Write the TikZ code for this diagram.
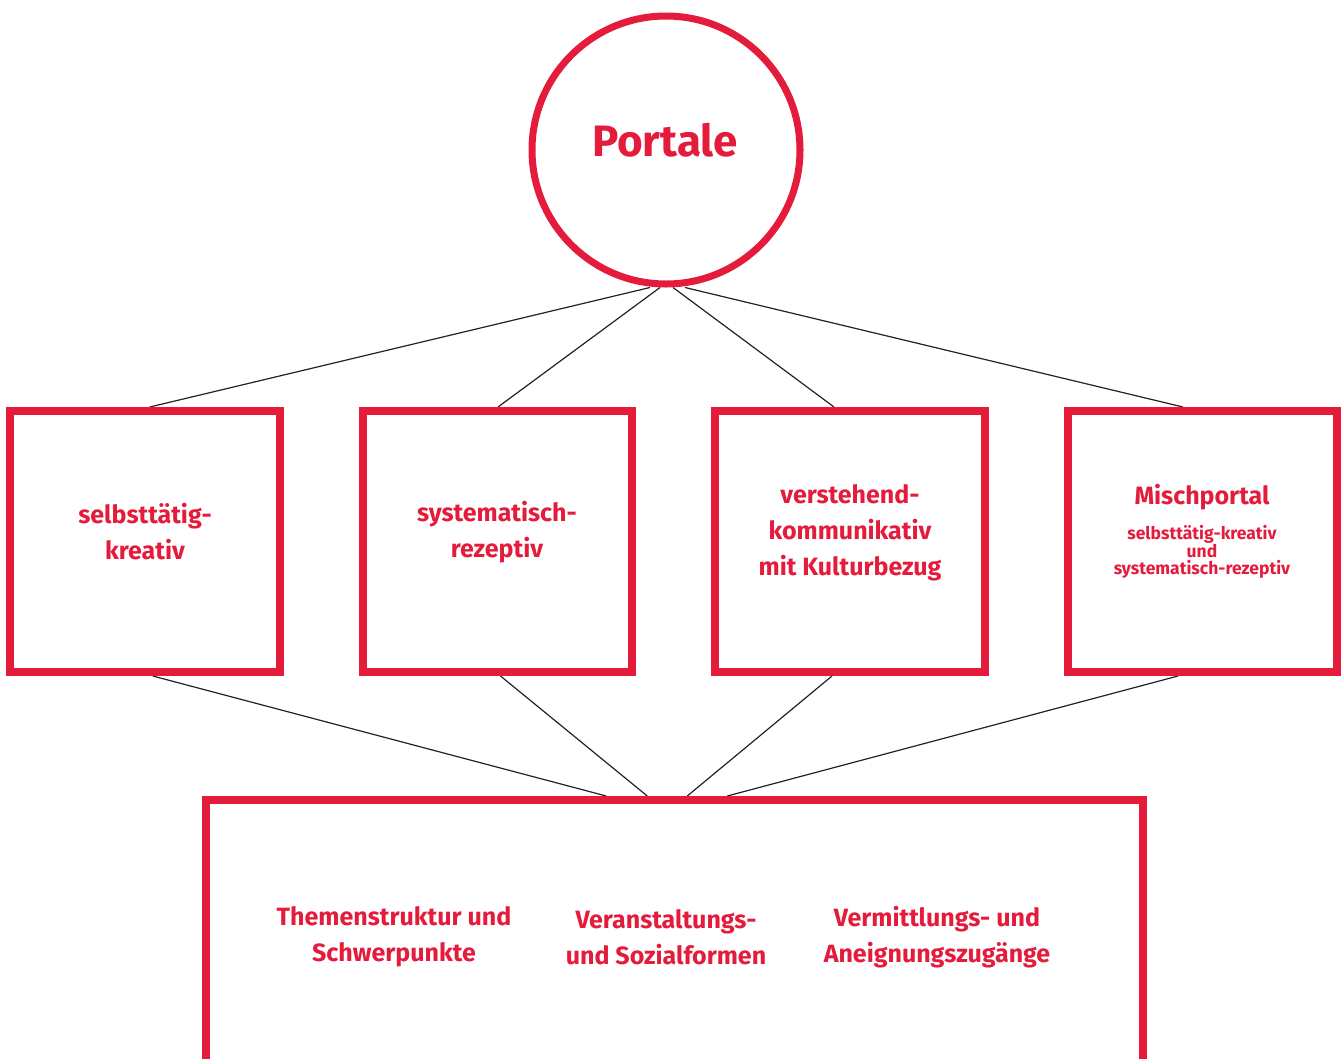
\documentclass[tikz,border=0pt]{standalone}
\usepackage{fontspec}
\setmainfont{Fira Sans}
\usetikzlibrary{calc}
\definecolor{pred}{RGB}{228,27,59}
\definecolor{lgray}{RGB}{34,34,34}
\pgfdeclarelayer{background}
\pgfsetlayers{background,main}
\tikzset{
  redbox/.style={draw=pred, line width=8pt, minimum width=269.5pt, minimum height=261pt, inner sep=0pt},
  bigbox/.style={draw=pred, line width=8pt, minimum width=936.5pt, minimum height=400pt, inner sep=0pt},
  portal/.style={draw=pred, line width=7pt, circle, minimum size=268pt, inner sep=0pt},
  lbl/.style={text=pred, font=\fontsize{25}{36}\selectfont\bfseries, align=center, inner sep=0pt},
  sublbl/.style={text=pred, font=\fontsize{17.5}{17.5}\selectfont\bfseries, align=center, inner sep=0pt},
  conn/.style={draw=lgray, line width=1.2pt}
}
\begin{document}
\begin{tikzpicture}[x=1pt,y=-1pt]
\useasboundingbox (0,0) rectangle (1344,1058);
\clip (0,0) rectangle (1344,1058);
% nodes
\node[portal] (c) at (666,150) {};
\node[text=pred, font=\fontsize{44}{50}\selectfont\bfseries, inner sep=0pt] (ct) at (665,140) {Portale};
\node[redbox] (b1) at (144.75,541.5) {};
\node[redbox] (b2) at (497.5,541.5) {};
\node[redbox] (b3) at (850,541.5) {};
\node[redbox] (b4) at (1202.5,541.5) {};
\node[bigbox] (bb) at (674.25,1000) {};
% labels
\node[lbl] (t1) at (145,532) {selbsttätig-\\kreativ};
\node[lbl] (t2) at (497,532) {systematisch-\\rezeptiv};
\node[lbl] (t3) at (850,533) {verstehend-\\kommunikativ\\mit Kulturbezug};
\node[lbl] (t4) at (1202,497) {Mischportal};
\node[sublbl] (t4s) at (1202,552) {selbsttätig-kreativ\\und\\systematisch-rezeptiv};
\node[lbl] (u1) at (394,937) {Themenstruktur und\\Schwerpunkte};
\node[lbl] (u2) at (666,937) {Veranstaltungs-\\und Sozialformen};
\node[lbl] (u3) at (937,937) {Vermittlungs- und\\Aneignungszugänge};
% connectors
\begin{pgfonlayer}{background}
\draw[conn] ($(c.south)+(-16,0)$) -- ($(b1.north)+(5,0)$);
\draw[conn] ($(c.south)+(-6,0)$) -- ($(b2.north)+(0.5,0)$);
\draw[conn] ($(c.south)+(7,0)$) -- ($(b3.north)+(-16,0)$);
\draw[conn] ($(c.south)+(19,0)$) -- ($(b4.north)+(-19.5,0)$);
\draw[conn] ($(b1.south)+(8,0)$) -- ($(bb.north)+(-68,0)$);
\draw[conn] ($(b2.south)+(3,0)$) -- ($(bb.north)+(-27,0)$);
\draw[conn] ($(b3.south)+(-18,0)$) -- ($(bb.north)+(13,0)$);
\draw[conn] ($(b4.south)+(-24.5,0)$) -- ($(bb.north)+(53,0)$);
\end{pgfonlayer}
\end{tikzpicture}
\end{document}
